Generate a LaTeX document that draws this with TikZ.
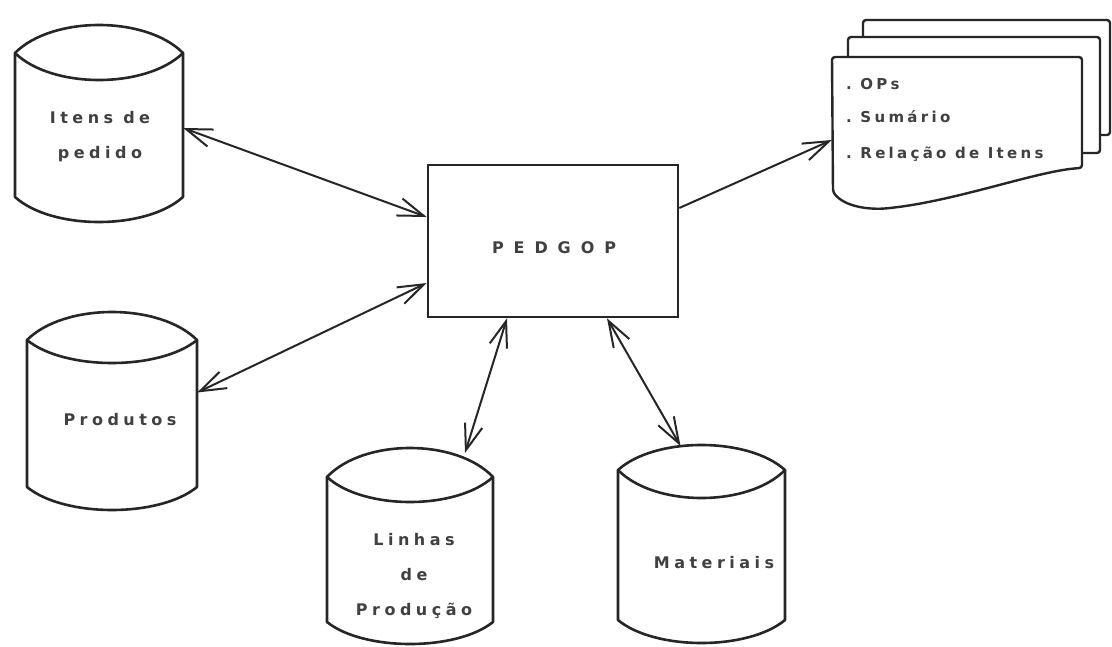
\documentclass[tikz,border=0pt]{standalone}
\usepackage{fontspec}
\setmainfont{DejaVu Sans}
\newfontfamily\cylfont[LetterSpace=28]{DejaVu Sans Bold}
\newfontfamily\pedfont[LetterSpace=62]{DejaVu Sans Bold}
\newfontfamily\docfont[LetterSpace=22]{DejaVu Sans Bold}
\usetikzlibrary{arrows.meta,calc}

\tikzset{
  ink/.style={draw=black!85},
  cyl/.style={ink, line width=2.6pt, line join=round},
  body/.style={inner sep=0pt, draw=none},
  lbl/.style={font=\cylfont\fontsize{16}{35}\selectfont, align=center, text=black!75},
  doclbl/.style={font=\docfont\fontsize{15}{17}\selectfont, text=black!75, anchor=west, inner sep=0pt},
  tipb/.tip={Straight Barb[length=26pt,width=18pt]},
  dbl/.style={ink, line width=2pt, tipb-tipb},
  sgl/.style={ink, line width=2pt, -tipb},
  pg/.style={ink, line width=2.4pt, rounded corners=3pt, line join=round},
}

% name, L, R, peak, corner, lower, bottom corner, bottom
\newcommand\dbcyl[8]{%
  \pgfmathsetmacro\cw{#3-#2}%
  \pgfmathsetmacro\xa{#2+0.22*\cw}%
  \pgfmathsetmacro\xb{#3-0.22*\cw}%
  \pgfmathsetmacro\ya{#5-4/3*(#5-#4)}%
  \pgfmathsetmacro\yb{#5+4/3*(#6-#5)}%
  \pgfmathsetmacro\yc{#7+4/3*(#8-#7)}%
  \pgfmathsetmacro\xm{(#2+#3)/2}%
  \pgfmathsetmacro\ym{(#5+#7)/2}%
  \pgfmathsetmacro\bh{#7-#5}%
  \draw[cyl] (#2,#5) .. controls (\xa,\ya) and (\xb,\ya) .. (#3,#5)
             .. controls (\xb,\yb) and (\xa,\yb) .. cycle;
  \draw[cyl] (#2,#5) -- (#2,#7) .. controls (\xa,\yc) and (\xb,\yc) .. (#3,#7) -- (#3,#5);
  \node[body, minimum width=\cw pt, minimum height=\bh pt] (#1) at (\xm,\ym) {};
  \coordinate (#1-top) at (\xm,#4);
}

\begin{document}
\begin{tikzpicture}[x=1pt,y=-1pt]
  \useasboundingbox (0,0) rectangle (1112,646);
  \fill[white] (0,0) rectangle (1112,646);

  % data stores
  \dbcyl{itens}{15}{183}{25}{53}{80}{197}{222}
  \dbcyl{prod}{27}{197}{312}{340}{363}{487}{510}
  \dbcyl{lin}{327}{493}{448}{477}{502}{622}{644}
  \dbcyl{mat}{618}{785}{445}{470}{498}{620}{643}

  \node[lbl] (itensT) at (100,137) {Itens de\\pedido};
  \node[lbl] (prodT) at (120,420) {Produtos};
  \node[lbl] (linT) at (414,576) {Linhas\\de\\Produção};
  \node[lbl] (matT) at (714,563) {Materiais};

  % process
  \node[ink, line width=2.6pt, minimum width=250pt, minimum height=152pt, inner sep=0pt] (ped) at (553,241) {};
  \node[font=\pedfont\fontsize{16}{18}\selectfont, text=black!75] (pedT) at (554,248) {PEDGOP};

  % report (document stack)
  \draw[pg] (863,37) -- (863,20) -- (1110,20) -- (1110,135) -- (1100,135);
  \draw[pg] (848,57) -- (848,37) -- (1100,37) -- (1100,153) -- (1082,153);
  \draw[pg] (832,57) -- (1082,57) -- (1082,168)
        .. controls (1040,170) and (960,200) .. (890,208)
        .. controls (870,210) and (845,207) .. (833,192) -- cycle;
  \node[body, minimum width=250pt, minimum height=135pt] (doc) at (957,124.5) {};
  \node[doclbl] (d1) at (846,84) {.\ OPs};
  \node[doclbl] (d2) at (846,117) {.\ Sumário};
  \node[doclbl] (d3) at (846,154) {.\ Relação de Itens};

  % connectors
  \draw[dbl] ([yshift=-3pt]itens.east) -- ([yshift=24pt]ped.west);
  \draw[dbl] ([yshift=21pt]prod.east) -- ([yshift=-42pt]ped.west);
  \draw[dbl] ([xshift=-46pt]ped.south) -- ([xshift=55pt,yshift=-5pt]lin-top);
  \draw[dbl] ([xshift=54pt]ped.south) -- ([xshift=-21pt,yshift=-1pt]mat-top);
  \draw[sgl] ([yshift=33pt]ped.east) -- ([yshift=-15.5pt]doc.west);
\end{tikzpicture}
\end{document}
